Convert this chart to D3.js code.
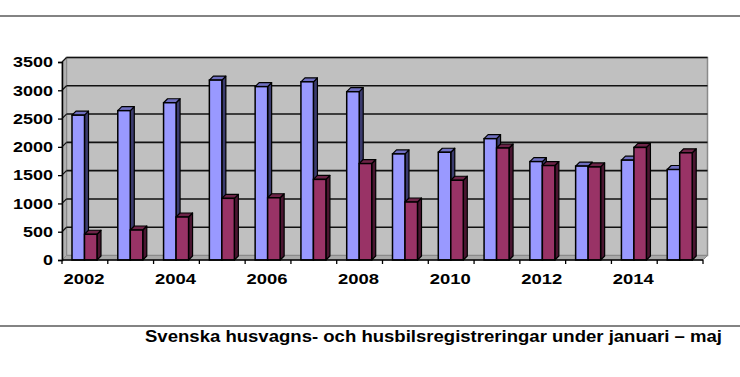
<!DOCTYPE html>
<html><head><meta charset="utf-8">
<script src="https://cdn.jsdelivr.net/npm/d3@7"></script>
<style>body{margin:0;background:#fff}svg{display:block}text{font-family:"Liberation Sans",Arial,sans-serif;font-weight:bold;fill:#000}</style>
</head><body>
<svg id="c" width="740" height="377"></svg>
<script>
const years = ["2002","2003","2004","2005","2006","2007","2008","2009","2010","2011","2012","2013","2014","2015"];
const series = ["husvagnar","husbilar"];
const husvagnar = [2560,2640,2780,3180,3065,3150,2975,1875,1905,2145,1740,1660,1765,1600];
const husbilar  = [455,530,760,1090,1100,1425,1705,1025,1410,1980,1670,1645,1990,1895];
const yTicks = [0,500,1000,1500,2000,2500,3000,3500];
const xLabels = ["2002","2004","2006","2008","2010","2012","2014"];
const caption = "Svenska husvagns- och husbilsregistreringar under januari \u2013 maj";

const svg = d3.select("#c");
const x0 = 62, x1 = 703, yb = 260, yt = 62;
const wd = 4.5; // wall depth
const bd = 4;   // bar depth
const x = d3.scaleBand().domain(years).range([x0, x1]).padding(0);
const xs = d3.scaleBand().domain(series).range([10, 35]);
const y = d3.scaleLinear().domain([0, 3500]).range([yb, yt]);

// rules
svg.append("line").attr("x1",0).attr("x2",740).attr("y1",16).attr("y2",16).attr("stroke","#5a5a5a").attr("stroke-width",1.5);
svg.append("line").attr("x1",0).attr("x2",740).attr("y1",326).attr("y2",326).attr("stroke","#5a5a5a").attr("stroke-width",1.5);

// walls
svg.append("rect").attr("x",x0+wd).attr("y",y(3500)-wd).attr("width",x1+wd-(x0+wd)).attr("height",y(0)-y(3500))
  .attr("fill","#c0c0c0").attr("stroke","#8a8a8a").attr("stroke-width",1.5);
svg.append("polygon").attr("points",[[x0,y(3500)],[x0+wd,y(3500)-wd],[x0+wd,y(0)-wd],[x0,y(0)]].join(" "))
  .attr("fill","#b0b0b0").attr("stroke","#8a8a8a");
svg.append("polygon").attr("points",[[x0,y(0)],[x0+wd,y(0)-wd],[x1+wd,y(0)-wd],[x1,y(0)]].join(" "))
  .attr("fill","#a8a8a8").attr("stroke","#8a8a8a");

// gridlines
yTicks.filter(v=>v>0).forEach(v=>{
  svg.append("line").attr("x1",x0+wd).attr("x2",x1+wd).attr("y1",y(v)-wd).attr("y2",y(v)-wd).attr("stroke","#111").attr("stroke-width",1.6);
  svg.append("line").attr("x1",x0).attr("x2",x0+wd).attr("y1",y(v)).attr("y2",y(v)-wd).attr("stroke","#111").attr("stroke-width",1.2);
});

// bars
const colors = {husvagnar:{front:"#9999ff",top:"#6f6fc0",side:"#3b3b6e"}, husbilar:{front:"#993366",top:"#6e2448",side:"#4a1530"}};
const data = [];
years.forEach((yr,i)=>{
  data.push({yr, s:"husvagnar", v:husvagnar[i]});
  data.push({yr, s:"husbilar", v:husbilar[i]});
});
const g = svg.append("g");
data.forEach(d=>{
  const bx = x(d.yr) + xs(d.s), bw = xs.bandwidth(), by = y(d.v), c = colors[d.s];
  g.append("polygon").attr("points",[[bx+bw,by],[bx+bw+bd,by-bd],[bx+bw+bd,yb-bd],[bx+bw,yb]].join(" "))
    .attr("fill",c.side).attr("stroke","#000").attr("stroke-width",1.2).attr("stroke-linejoin","round");
  g.append("polygon").attr("points",[[bx,by],[bx+bd,by-bd],[bx+bw+bd,by-bd],[bx+bw,by]].join(" "))
    .attr("fill",c.top).attr("stroke","#000").attr("stroke-width",1.2).attr("stroke-linejoin","round");
  g.append("rect").attr("x",bx).attr("y",by).attr("width",bw).attr("height",yb-by)
    .attr("fill",c.front).attr("stroke","#000").attr("stroke-width",1.5);
});

// y axis
const ya = svg.append("g").attr("transform",`translate(${x0},0)`)
  .call(d3.axisLeft(y).tickValues(yTicks).tickFormat(d3.format("d")).tickSize(4).tickPadding(5));
ya.select(".domain").attr("stroke","#000").attr("stroke-width",1.5);
ya.selectAll(".tick line").attr("stroke","#000").attr("stroke-width",1.3);
ya.selectAll(".tick text").attr("font-size",15).attr("font-weight","bold")
  .attr("font-family",'"Liberation Sans",Arial,sans-serif').attr("fill","#000")
  .attr("textLength",function(){return this.textContent.length*10;}).attr("lengthAdjust","spacingAndGlyphs");

// x axis line and boundary ticks
svg.append("line").attr("x1",x0).attr("x2",x1).attr("y1",yb).attr("y2",yb).attr("stroke","#000").attr("stroke-width",1.5);
years.concat(["end"]).forEach((yr,i)=>{
  const tx = yr==="end" ? x1 : x(yr);
  svg.append("line").attr("x1",tx).attr("x2",tx).attr("y1",yb).attr("y2",yb+4).attr("stroke","#000").attr("stroke-width",1.3);
});
const xa = svg.append("g").attr("transform",`translate(0,${yb})`)
  .call(d3.axisBottom(x).tickValues(xLabels).tickSize(0).tickPadding(13));
xa.select(".domain").remove();
xa.selectAll(".tick text").attr("font-size",15).attr("font-weight","bold")
  .attr("font-family",'"Liberation Sans",Arial,sans-serif').attr("fill","#000")
  .attr("textLength",41).attr("lengthAdjust","spacingAndGlyphs").attr("dx",-1);

// caption
svg.append("text").attr("x",145).attr("y",342).attr("font-size",16.5)
  .attr("textLength",577).attr("lengthAdjust","spacingAndGlyphs").text(caption);
</script>
</body></html>
